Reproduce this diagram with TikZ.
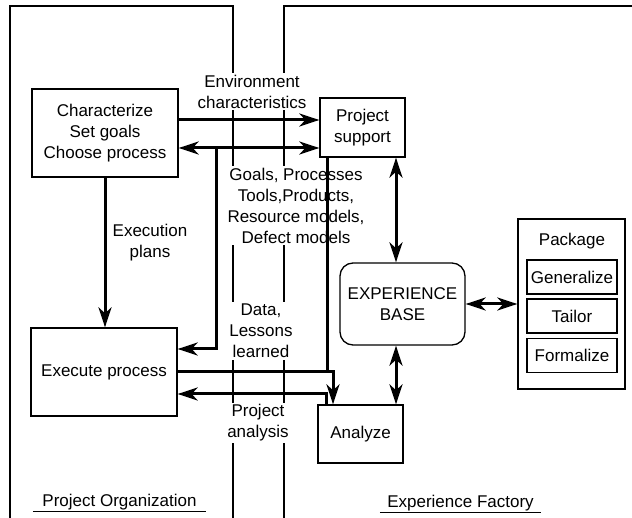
\documentclass[tikz,border=0pt]{standalone}
\usepackage{fontspec}
\setmainfont{Liberation Sans}
\usetikzlibrary{arrows.meta}
\begin{document}
\begin{tikzpicture}[x=1pt,y=-1pt,
  every node/.style={font=\fontsize{17}{21}\selectfont, align=center},
  box/.style={draw, line width=1.3pt, inner sep=0pt},
  lab/.style={fill=white, inner sep=2pt},
  conn/.style={line width=3pt},
  tip/.tip={Stealth[length=20pt,width=13pt,inset=6pt]},
  arr/.style={conn, -tip},
  darr/.style={conn, tip-tip},
  frame/.style={line width=1.1pt}]
\useasboundingbox (0,0) rectangle (632,518);
% frames
\draw[frame] (10,518) -- (10,6) -- (233,6) -- (233,518);
\draw[frame] (284,518) -- (284,6) -- (632,6);
% boxes
\node[box, minimum width=146pt, minimum height=88pt] (char) at (105,133) {Characterize\\Set goals\\Choose process};
\node[box, minimum width=146pt, minimum height=88pt] (exec) at (104,372) {Execute process};
\node[box, minimum width=85pt, minimum height=59pt] (ps) at (362.5,127.5) {Project\\support};
\node[box, rounded corners=13pt, minimum width=125pt, minimum height=82pt] (eb) at (402.5,304) {EXPERIENCE\\BASE};
\node[box, minimum width=85pt, minimum height=58pt] (an) at (360.5,434) {Analyze};
\node[box, minimum width=107pt, minimum height=170pt] (pkg) at (571.5,304) {};
\node (pkgt) at (572,241) {Package};
\node[box, minimum width=90pt, minimum height=34pt] (gen) at (572,277) {Generalize};
\node[box, minimum width=90pt, minimum height=34pt] (tai) at (572,316) {Tailor};
\node[box, minimum width=90pt, minimum height=34pt] (form) at (572,355.5) {Formalize};
% labels
\node[lab] (envl) at (252,91.5) {Environment\\characteristics};
\node[lab] (goall) at (296,205.5) {Goals, Processes\\Tools,Products,\\Resource models,\\Defect models};
\node (execl) at (150,243) {Execution\\plans};
\node[lab] (datal) at (261,331) {Data,\\Lessons\\learned};
\node[lab] (pal) at (258,423) {Project\\analysis};
\node[inner sep=1pt, minimum width=173pt] (po) at (119.5,502) {Project Organization};
\draw[line width=1.1pt] (po.south west) -- (po.south east);
\node[inner sep=1pt, minimum width=161pt] (ef) at (460.5,503) {Experience Factory};
\draw[line width=1.1pt] (ef.south west) -- (ef.south east);
% connectors
\coordinate (j1) at (216,148);
\draw[arr] ([yshift=13pt]char.east) -- ([yshift=13pt]char.east -| ps.west);
\draw[darr] ([yshift=-15pt]char.east) -- ([yshift=-15pt]char.east -| ps.west);
\draw[arr] (j1) |- ([yshift=23pt]exec.east);
\draw[arr] (char.south) -- (char.south |- exec.north);
\draw[conn] ([xshift=-35.5pt]ps.south) -- ([xshift=-35.5pt]ps.south |- exec.east);
\draw[arr] (exec.east) -| ([xshift=-27.5pt]an.north);
\draw[arr] ([xshift=-34.5pt]an.north) |- ([yshift=-22pt]exec.east);
\draw[darr] ([xshift=33.5pt]ps.south) -- ([xshift=33.5pt]ps.south |- eb.north);
\draw[darr] ([xshift=-6.5pt]eb.south) -- ([xshift=-6.5pt]eb.south |- an.north);
\draw[darr] (eb.east) -- (pkg.west);
\end{tikzpicture}
\end{document}
